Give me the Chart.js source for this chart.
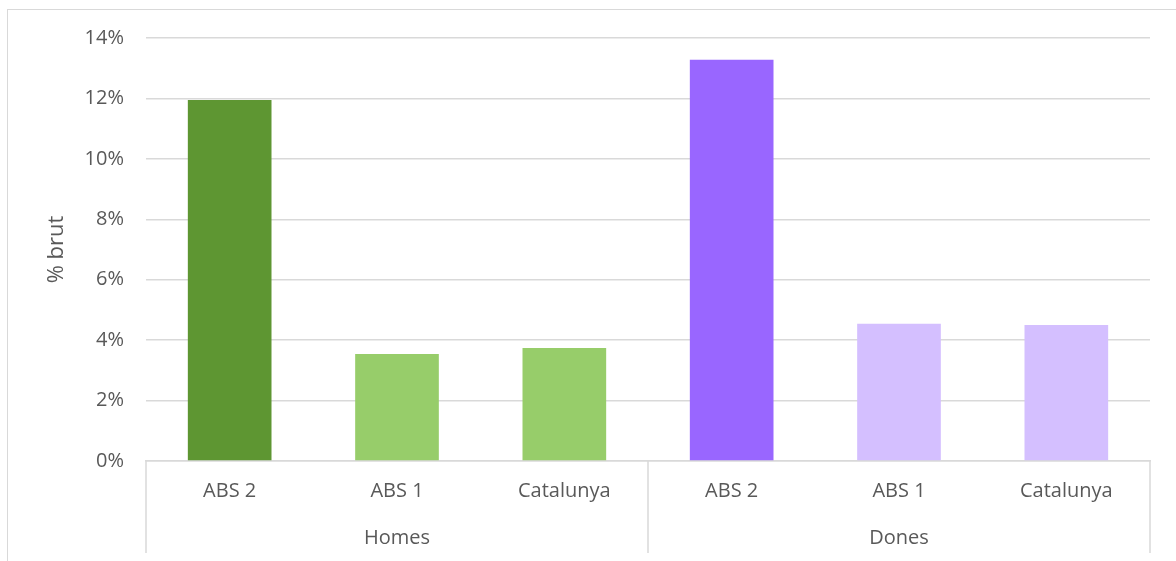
<!DOCTYPE html>
<html>
<head>
<meta charset="utf-8">
<script src="https://cdn.jsdelivr.net/npm/chart.js@4"></script>
<style>
  body { margin: 0; background: #fff; }
  .wrap { position: absolute; left: 0; top: 0; width: 1176px; height: 561px; }
  .frame { position: absolute; left: 7px; top: 9px; right: 0; bottom: 0;
           border-left: 1px solid #d9d9d9; border-top: 1px solid #d9d9d9; pointer-events: none; }
</style>
</head>
<body>
<div class="wrap">
  <canvas id="grafic" width="1176" height="561"></canvas>
  <div class="frame"></div>
</div>
<script>
// dades llegides del gràfic (% brut)
const categories = ['ABS 2', 'ABS 1', 'Catalunya'];
const grups = ['Homes', 'Dones'];
const valorsHomes = [11.95, 3.54, 3.74];
const valorsDones = [13.28, 4.54, 4.50];
const ticksY = [0, 2, 4, 6, 8, 10, 12, 14];

const colorsHomes = ['#5e9632', '#97cd6a', '#97cd6a'];
const colorsDones = ['#9966ff', '#d4bfff', '#d4bfff'];

const etiquetes = grups.flatMap(() => categories);
const valors = valorsHomes.concat(valorsDones);
const colors = colorsHomes.concat(colorsDones);

const textColor = '#595959';
const gridColor = '#d9d9d9';
const font = { family: 'Open Sans', size: 20 };

// linies verticals que separen els grups a l'eix X
const separadors = {
  id: 'separadors',
  afterDraw(chart) {
    const x = chart.scales.x;
    const x2 = chart.scales.grup;
    const mig = (x.getPixelForValue(2) + x.getPixelForValue(3)) / 2;
    const ctx = chart.ctx;
    ctx.save();
    ctx.strokeStyle = gridColor;
    ctx.lineWidth = 1.5;
    [x.left, mig, x.right].forEach(px => {
      ctx.beginPath();
      ctx.moveTo(px, x.top);
      ctx.lineTo(px, x2.bottom - 8);
      ctx.stroke();
    });
    ctx.restore();
  }
};

new Chart(document.getElementById('grafic'), {
  type: 'bar',
  data: {
    labels: etiquetes,
    datasets: [{
      data: valors,
      backgroundColor: colors,
      barPercentage: 0.5,
      categoryPercentage: 1
    }]
  },
  options: {
    responsive: false,
    animation: false,
    layout: { padding: { left: 0, top: 38, right: 26, bottom: 0 } },
    plugins: {
      legend: { display: false },
      tooltip: { enabled: false }
    },
    scales: {
      y: {
        min: 0,
        max: 14,
        afterBuildTicks: scale => { scale.ticks = ticksY.map(v => ({ value: v })); },
        afterFit: scale => { scale.width = 146; },
        ticks: {
          color: textColor,
          font: font,
          padding: 22,
          callback: v => v + '%'
        },
        grid: { color: gridColor, lineWidth: 1.5, drawTicks: false },
        border: { display: false },
        title: {
          display: true,
          text: '% brut',
          color: textColor,
          font: { family: 'Open Sans', size: 22 },
          padding: { top: 44, bottom: 0 }
        }
      },
      x: {
        afterFit: scale => { scale.height = 58; },
        ticks: { color: textColor, font: font, padding: 18, maxRotation: 0 },
        grid: { display: false, drawTicks: false },
        border: { display: true, color: gridColor, width: 1.5 }
      },
      grup: {
        type: 'category',
        position: 'bottom',
        labels: grups,
        offset: true,
        afterFit: scale => { scale.height = 42; },
        ticks: { color: textColor, font: font, padding: 7, maxRotation: 0 },
        grid: { display: false, drawTicks: false },
        border: { display: false }
      }
    }
  },
  plugins: [separadors]
});
</script>
</body>
</html>
